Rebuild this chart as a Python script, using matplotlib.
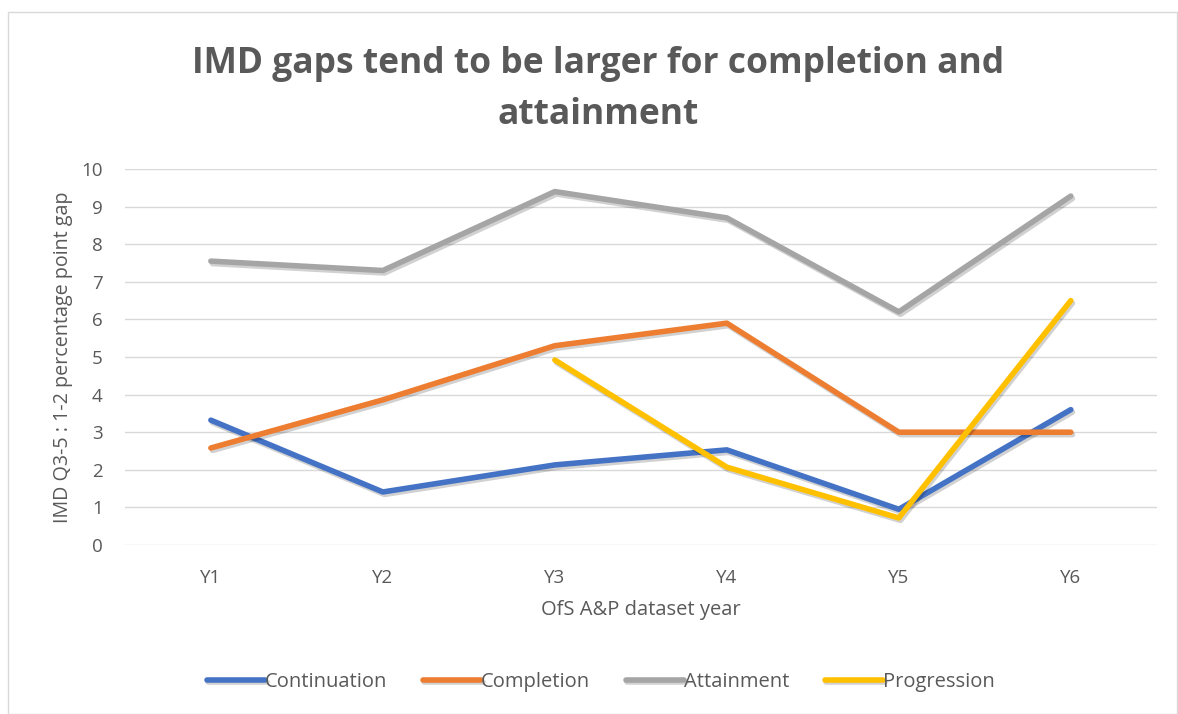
import numpy as np
import matplotlib
matplotlib.use("Agg")
import matplotlib.pyplot as plt
import matplotlib.patheffects as pe
from matplotlib.patches import Rectangle

years = ["Y1", "Y2", "Y3", "Y4", "Y5", "Y6"]
continuation = [3.32, 1.41, 2.13, 2.53, 0.95, 3.6]
completion = [2.58, 3.86, 5.3, 5.9, 3.0, 3.0]
attainment = [7.55, 7.3, 9.4, 8.7, 6.2, 9.28]
progression = [np.nan, np.nan, 4.92, 2.07, 0.72, 6.5]

series_names = ["Continuation", "Completion", "Attainment", "Progression"]
series_colors = ["#4472C4", "#ED7D31", "#A5A5A5", "#FFC000"]

plt.rcParams['font.family'] = ['Open Sans', 'DejaVu Sans']
txt = "#595959"

fig = plt.figure(figsize=(11.78, 7.14), dpi=100)
fig.patches.append(Rectangle((8/1178, 0.0), 1 - 8/1178 - 0.001, 1 - 12/714,
                             transform=fig.transFigure, fill=False,
                             edgecolor="#d9d9d9", linewidth=1.0))
ax = fig.add_axes([0.106, 0.2367, 0.876, 0.5266])

x = np.arange(len(years))
shadow = [pe.SimpleLineShadow(offset=(1.2, -1.8), shadow_color="black", alpha=0.18), pe.Normal()]
for vals, name, col in zip([continuation, completion, attainment, progression], series_names, series_colors):
    ax.plot(x, vals, color=col, linewidth=4.0, solid_capstyle="round",
            solid_joinstyle="round", label=name, path_effects=shadow, zorder=3)

ax.set_xlim(-0.5, len(years) - 0.5)
ax.set_ylim(0, 10)
ax.set_yticks(range(0, 11))
ax.set_xticks(x)
ax.set_xticklabels(years)
ax.grid(axis="y", color="#d9d9d9", linewidth=1.0)
ax.set_axisbelow(True)
for s in ax.spines.values():
    s.set_visible(False)
ax.tick_params(axis="both", length=0, colors=txt, labelsize=13.5)
ax.tick_params(axis="y", pad=16)
ax.tick_params(axis="x", pad=17)

ax.set_xlabel("OfS A&P dataset year", color=txt, fontsize=14.5, labelpad=10)
ax.set_ylabel("IMD Q3-5 : 1-2 percentage point gap", color=txt, fontsize=14.2, labelpad=6)

fig.text(0.508, 0.875, "IMD gaps tend to be larger for completion and\nattainment",
         ha="center", va="center", fontsize=25.5, fontweight="bold", color=txt,
         linespacing=1.55)

leg = fig.legend(loc="center", bbox_to_anchor=(0.51, 0.045), ncol=4, frameon=False,
                 fontsize=14.5, handlelength=2.9, handletextpad=0.0, columnspacing=1.75)
for t in leg.get_texts():
    t.set_color(txt)
for h in leg.get_lines():
    h.set_linewidth(4.0)

fig.savefig("out.png", dpi=100)
